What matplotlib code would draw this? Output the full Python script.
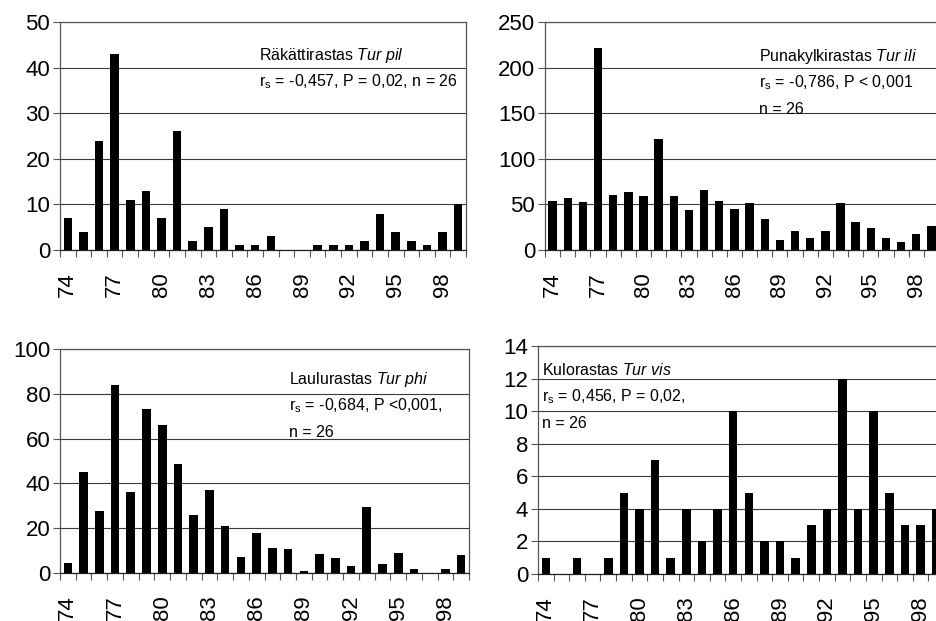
import numpy as np
import matplotlib
matplotlib.use("Agg")
import matplotlib.pyplot as plt
from matplotlib.ticker import MultipleLocator

plt.rcParams["font.family"] = ["Liberation Sans", "DejaVu Sans"]
plt.rcParams["mathtext.fontset"] = "custom"
plt.rcParams["mathtext.rm"] = "Liberation Sans"
plt.rcParams["mathtext.it"] = "Liberation Sans:italic"

years = list(range(74, 100))
year_labels = [str(y) for y in years[::3]]

tur_pil = [7, 4, 24, 43, 11, 13, 7, 26, 2, 5, 9, 1, 1, 3, 0, 0, 1, 1, 1, 2, 8, 4, 2, 1, 4, 10]
tur_ili = [54, 57, 53, 222, 60, 64, 59, 122, 59, 44, 66, 54, 45, 51, 34, 11, 21, 13, 21, 51, 31, 24, 13, 9, 18, 26]
tur_phi = [4.5, 45, 27.5, 84, 36, 73, 66, 48.5, 26, 37, 21, 7, 18, 11, 10.5, 1, 8.5, 6.5, 3, 29.5, 4, 9, 2, 0, 2, 8]
tur_vis = [1, 0, 1, 0, 1, 5, 4, 7, 1, 4, 2, 4, 10, 5, 2, 2, 1, 3, 4, 12, 4, 10, 5, 3, 3, 4]

W, H = 936, 621
fig = plt.figure(figsize=(W / 100, H / 100), dpi=100)


def panel(left, top, right, bottom, values, ymax, ystep, lines, tx, ty):
    ax = fig.add_axes([left / W, 1 - bottom / H, (right - left) / W, (bottom - top) / H])
    x = np.arange(len(years))
    ax.bar(x, values, width=0.55, color="black", zorder=3)
    ax.set_xlim(-0.5, len(years) - 0.5)
    ax.set_ylim(0, ymax)
    ax.yaxis.set_major_locator(MultipleLocator(ystep))
    ax.grid(axis="y", color="#3a3a3a", lw=0.8, zorder=1)
    ax.set_xticks(x[::3])
    ax.set_xticklabels(year_labels, rotation=90)
    ax.set_xticks(np.arange(-0.5, len(years)), minor=True)
    ax.tick_params(axis="x", which="major", length=0, pad=16, labelsize=16)
    ax.tick_params(axis="x", which="minor", length=5, width=0.8, color="#555555", direction="out")
    ax.tick_params(axis="y", length=5, width=0.8, color="#555555", pad=2, labelsize=16)
    for sp in ax.spines.values():
        sp.set_color("#555555")
        sp.set_linestyle((0, (3, 1)))
        sp.set_linewidth(0.9)
    ax.spines["bottom"].set_linestyle("-")
    ax.spines["bottom"].set_color("#222222")
    for i, line in enumerate(lines):
        fig.text(tx / W, 1 - (ty + 26.5 * i) / H, line, fontsize=11.5, va="baseline")
    return ax


panel(60, 22, 466, 250, tur_pil, 50, 10,
      [r"Räkättirastas $\mathit{Tur\ pil}$",
       r"$\mathrm{r_s}$ = -0,457, P = 0,02, n = 26"], 259, 60)
panel(545, 22, 939, 250, tur_ili, 250, 50,
      [r"Punakylkirastas $\mathit{Tur\ ili}$",
       r"$\mathrm{r_s}$ = -0,786, P < 0,001",
       "n = 26"], 759, 61)
panel(60, 349, 469, 573, tur_phi, 100, 20,
      [r"Laulurastas $\mathit{Tur\ phi}$",
       r"$\mathrm{r_s}$ = -0,684, P <0,001,",
       "n = 26"], 289, 384)
panel(538, 346, 944, 574, tur_vis, 14, 2,
      [r"Kulorastas $\mathit{Tur\ vis}$",
       r"$\mathrm{r_s}$ = 0,456, P = 0,02,",
       "n = 26"], 542, 375)

fig.savefig("out.png", dpi=100, facecolor="white")
